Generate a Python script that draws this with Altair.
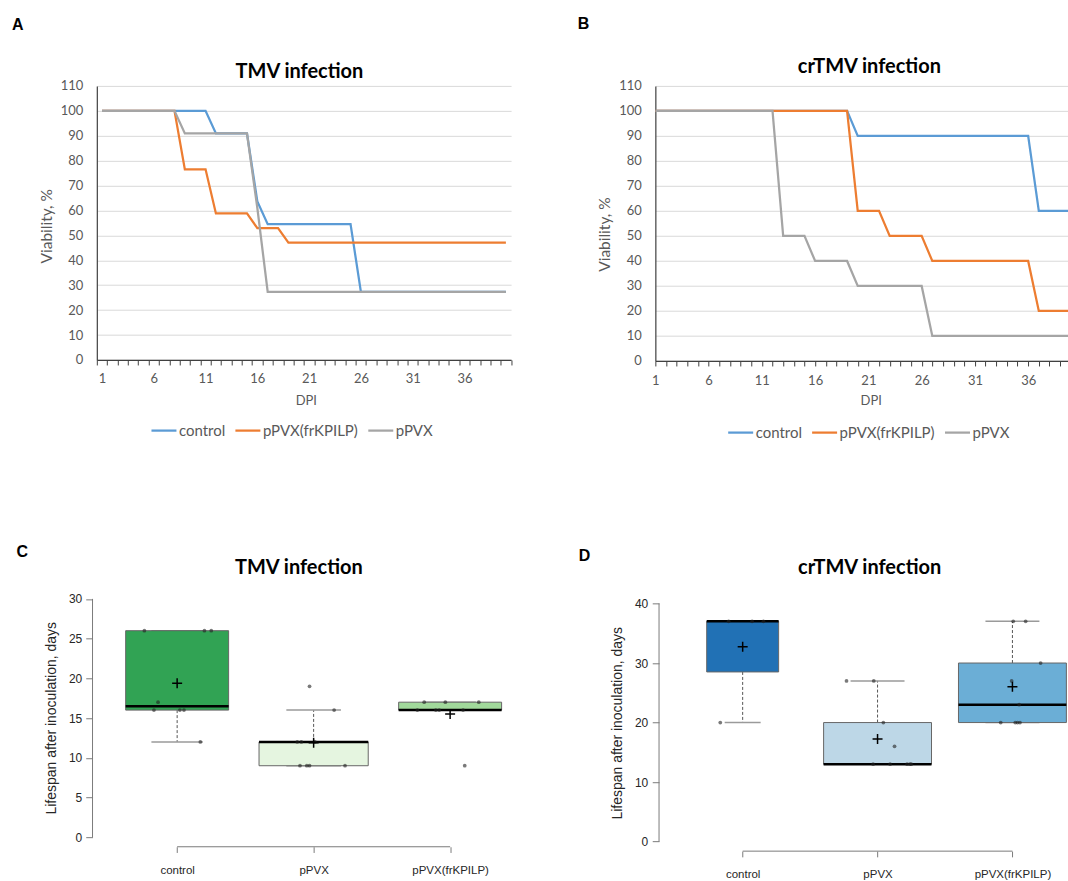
import altair as alt
import pandas as pd
import numpy as np

# ---------------- data: survival curves (A, B) ----------------
km_groups = ["control", "pPVX(frKPILP)", "pPVX"]
km_colors = ["#5b9bd5", "#ed7d31", "#a5a5a5"]
days = list(range(1, 41))

tmv_control = [100, 100, 100, 100, 100, 100, 100, 100, 100, 100,
               100, 90.9, 90.9, 90.9, 90.9, 63.6, 54.5, 54.5, 54.5, 54.5,
               54.5, 54.5, 54.5, 54.5, 54.5, 27.3, 27.3, 27.3, 27.3, 27.3,
               27.3, 27.3, 27.3, 27.3, 27.3, 27.3, 27.3, 27.3, 27.3, 27.3]
tmv_frkpilp = [100, 100, 100, 100, 100, 100, 100, 100, 76.5, 76.5,
               76.5, 58.8, 58.8, 58.8, 58.8, 52.9, 52.9, 52.9, 47.1, 47.1,
               47.1, 47.1, 47.1, 47.1, 47.1, 47.1, 47.1, 47.1, 47.1, 47.1,
               47.1, 47.1, 47.1, 47.1, 47.1, 47.1, 47.1, 47.1, 47.1, 47.1]
tmv_ppvx = [100, 100, 100, 100, 100, 100, 100, 100, 90.9, 90.9,
            90.9, 90.9, 90.9, 90.9, 90.9, 61, 27.3, 27.3, 27.3, 27.3,
            27.3, 27.3, 27.3, 27.3, 27.3, 27.3, 27.3, 27.3, 27.3, 27.3,
            27.3, 27.3, 27.3, 27.3, 27.3, 27.3, 27.3, 27.3, 27.3, 27.3]

crtmv_control = [100, 100, 100, 100, 100, 100, 100, 100, 100, 100,
                 100, 100, 100, 100, 100, 100, 100, 100, 100, 90,
                 90, 90, 90, 90, 90, 90, 90, 90, 90, 90,
                 90, 90, 90, 90, 90, 90, 60, 60, 60, 60]
crtmv_frkpilp = [100, 100, 100, 100, 100, 100, 100, 100, 100, 100,
                 100, 100, 100, 100, 100, 100, 100, 100, 100, 60,
                 60, 60, 50, 50, 50, 50, 40, 40, 40, 40,
                 40, 40, 40, 40, 40, 40, 20, 20, 20, 20]
crtmv_ppvx = [100, 100, 100, 100, 100, 100, 100, 100, 100, 100,
              100, 100, 50, 50, 50, 40, 40, 40, 40, 30,
              30, 30, 30, 30, 30, 30, 10, 10, 10, 10,
              10, 10, 10, 10, 10, 10, 10, 10, 10, 10]

# ---------------- data: lifespan box plots (C, D) ----------------
box_groups = ["control", "pPVX", "pPVX(frKPILP)"]
tmv_box_colors = ["#31a354", "#e5f5e0", "#a1d99b"]
crtmv_box_colors = ["#2171b5", "#bdd7e7", "#6baed6"]

tmv_life_control = [26, 26, 26, 17, 16, 16, 16, 12]
tmv_life_control_jitter = [-0.24, 0.20, 0.25, -0.14, -0.17, 0.02, 0.05, 0.17]
tmv_life_ppvx = [19, 16, 12, 12, 12, 9, 9, 9, 9]
tmv_life_ppvx_jitter = [-0.03, 0.15, -0.12, -0.09, 0.01, -0.10, -0.05, -0.03, 0.23]
tmv_life_frkpilp = [17, 17, 17, 16, 16, 16, 16, 9]
tmv_life_frkpilp_jitter = [-0.19, -0.035, 0.21, -0.24, -0.105, -0.08, 0.095, 0.107]

crtmv_life_control = [37, 37, 37, 20]
crtmv_life_control_jitter = [-0.104, 0.07, 0.154, -0.166]
crtmv_life_ppvx = [27, 27, 20, 16, 13, 13, 13, 13, 13]
crtmv_life_ppvx_jitter = [-0.23, -0.028, 0.043, 0.126, -0.033, 0.093, 0.219, 0.24, 0.25]
crtmv_life_frkpilp = [37, 37, 30, 27, 23, 20, 20, 20, 20]
crtmv_life_frkpilp_jitter = [0.006, 0.098, 0.209, -0.006, 0.05, -0.087, 0.021, 0.038, 0.056]

# ---------------- styles ----------------
XL_FONT = "Lato"
R_FONT = "Liberation Sans"
XL_TXT = "#595959"
XL_AX = "#404040"
R_AX = "#7a7a7a"
R_TXT = "#262626"


def header_layers(letter, lxy, title, txy):
    one = pd.DataFrame({"t": [letter], "title": [title]})
    let = alt.Chart(one).mark_text(
        font=R_FONT, fontWeight="bold", fontSize=16, align="left",
        baseline="top", color="black"
    ).encode(text="t:N", x=alt.value(lxy[0]), y=alt.value(lxy[1]))
    tit = alt.Chart(one).mark_text(
        font=XL_FONT, fontWeight="bold", fontSize=20, align="center",
        baseline="alphabetic", color="black"
    ).encode(text="title:N", x=alt.value(txy[0]), y=alt.value(txy[1]))
    return [let, tit]


def km_panel(vals, xdom, xvals, label_expr, label_off, width, height,
             title, txy, letter, lxy, ytitle_xy, xtitle_xy, legend_xy, xlab_pad):
    rows = []
    for g, v in zip(km_groups, vals):
        for d, val in zip(days, v):
            rows.append({"day": d, "viability": val, "group": g})
    df = pd.DataFrame(rows)
    x_axis = alt.Axis(values=xvals, labelExpr=label_expr, labelOffset=label_off,
                      tickSize=5, tickColor=XL_AX, tickWidth=1,
                      domainColor=XL_AX, domainWidth=1.2, grid=False,
                      labelFont=XL_FONT, labelFontSize=13, labelColor=XL_TXT,
                      labelPadding=xlab_pad, labelBaseline="middle",
                      labelOverlap=False, labelFlush=False,
                      title="DPI", titleFont=XL_FONT, titleFontSize=13,
                      titleFontWeight="normal", titleColor=XL_TXT,
                      titleX=xtitle_xy[0], titleY=xtitle_xy[1],
                      titleBaseline="middle", titleAlign="center")
    y_axis = alt.Axis(values=list(range(0, 111, 10)), ticks=False, tickSize=0,
                      domainColor=XL_AX, domainWidth=1.2,
                      grid=True, gridColor="#d9d9d9", gridWidth=1,
                      labelFont=XL_FONT, labelFontSize=13, labelColor=XL_TXT,
                      labelPadding=14,
                      title="Viability, %", titleFont=XL_FONT, titleFontSize=15.5,
                      titleFontWeight="normal", titleColor=XL_TXT,
                      titleX=ytitle_xy[0], titleY=ytitle_xy[1],
                      titleBaseline="middle", titleAlign="center")
    legend = alt.Legend(orient="none", legendX=legend_xy[0], legendY=legend_xy[1],
                        direction="horizontal", title=None, symbolType="stroke",
                        symbolSize=625, symbolStrokeWidth=2.25,
                        labelFont=XL_FONT, labelFontSize=15, labelColor=XL_TXT,
                        labelOffset=1, columnPadding=5)
    lines = alt.Chart(df).mark_line(strokeWidth=2.25, clip=True).encode(
        x=alt.X("day:Q", scale=alt.Scale(domain=xdom, nice=False, zero=False), axis=x_axis),
        y=alt.Y("viability:Q", scale=alt.Scale(domain=[0, 110], nice=False, zero=False), axis=y_axis),
        color=alt.Color("group:N", scale=alt.Scale(domain=km_groups, range=km_colors), legend=legend),
    )
    return alt.layer(lines, *header_layers(letter, lxy, title, txy)).properties(
        width=width, height=height)


def fivenum(v):
    x = np.sort(np.asarray(v, dtype=float))
    n = len(x)
    n4 = np.floor((n + 3) / 2) / 2
    d = np.array([1, n4, (n + 1) / 2, n + 1 - n4, n]) - 1
    return 0.5 * (x[np.floor(d).astype(int)] + x[np.ceil(d).astype(int)])


def box_tables(values_list, jitter_list):
    nmax = max(len(v) for v in values_list)
    stats, pts = [], []
    for i, (g, v, j) in enumerate(zip(box_groups, values_list, jitter_list)):
        pos = i + 1
        arr = np.asarray(v, dtype=float)
        f = fivenum(arr)
        iqr = f[3] - f[1]
        lw = arr[arr >= f[1] - 1.5 * iqr].min()
        uw = arr[arr <= f[3] + 1.5 * iqr].max()
        half = 0.4 * np.sqrt(len(arr) / nmax)
        stats.append(dict(group=g, pos=pos, left=pos - half, right=pos + half,
                          capl=pos - half / 2, capr=pos + half / 2,
                          lh=f[1], med=f[2], uh=f[3], lw=lw, uw=uw, mean=arr.mean()))
        for val, jj in zip(arr, j):
            pts.append(dict(group=g, x=pos + jj, y=val))
    return pd.DataFrame(stats), pd.DataFrame(pts)


def r_panel(values_list, jitter_list, colors, xdom, ydom, yticks, axis_x, ppu,
            width, height, title, txy, letter, lxy, ytitle_y, xlab_pad, ylab_pad):
    stats, pts = box_tables(values_list, jitter_list)
    x_scale = alt.Scale(domain=xdom, nice=False, zero=False)
    y_scale = alt.Scale(domain=ydom, nice=False, zero=False)
    y_off = (xdom[0] - axis_x) * ppu
    label_expr = " : ".join(
        [f"datum.value == {i + 1} ? '{g}'" for i, g in enumerate(box_groups[:-1])]
    ) + f" : '{box_groups[-1]}'"
    x_axis = alt.Axis(values=[1, 2, 3], labelExpr=label_expr, domain=False,
                      tickSize=5.7, tickColor=R_AX, tickWidth=1, grid=False,
                      labelFont=R_FONT, labelFontSize=11.5, labelColor=R_TXT,
                      labelPadding=xlab_pad, labelBaseline="middle",
                      labelFlush=False, labelOverlap=False, title=None)
    y_axis = alt.Axis(values=yticks, domain=False, tickSize=6.8, tickColor=R_AX,
                      tickWidth=1, offset=y_off, grid=False,
                      labelFont=R_FONT, labelFontSize=12, labelColor=R_TXT,
                      labelPadding=ylab_pad,
                      title="Lifespan after inoculation, days", titleFont=R_FONT,
                      titleFontSize=14, titleFontWeight="normal", titleColor=R_TXT,
                      titleX=-41.3, titleY=ytitle_y, titleBaseline="middle",
                      titleAlign="center")

    def X(f):
        return alt.X(f, type="quantitative", scale=x_scale, axis=x_axis)

    def Y(f):
        return alt.Y(f, type="quantitative", scale=y_scale, axis=y_axis)

    base = alt.Chart(stats)
    one = alt.Chart(pd.DataFrame({"k": [0]}))
    y_line = one.mark_rule(color=R_AX, strokeWidth=1).encode(
        x=alt.XDatum(axis_x, type="quantitative", scale=x_scale, axis=x_axis),
        y=alt.YDatum(yticks[0], type="quantitative", scale=y_scale, axis=y_axis),
        y2=alt.Y2Datum(yticks[-1]))
    x_line = one.mark_rule(color=R_AX, strokeWidth=1).encode(
        x=alt.XDatum(1, type="quantitative", scale=x_scale, axis=x_axis),
        x2=alt.X2Datum(3),
        y=alt.YDatum(ydom[0], type="quantitative", scale=y_scale, axis=y_axis))
    wl = base.mark_rule(color="#555555", strokeDash=[3, 2], strokeWidth=1).encode(
        x=X("pos"), y=Y("lh"), y2="lw")
    wu = base.mark_rule(color="#555555", strokeDash=[3, 2], strokeWidth=1).encode(
        x=X("pos"), y=Y("uh"), y2="uw")
    cl = base.mark_rule(color="#9a9a9a", strokeWidth=1.5).encode(
        x=X("capl"), x2="capr", y=Y("lw"))
    cu = base.mark_rule(color="#9a9a9a", strokeWidth=1.5).encode(
        x=X("capl"), x2="capr", y=Y("uw"))
    boxes = base.mark_rect(stroke="#666666", strokeWidth=1).encode(
        x=X("left"), x2="right", y=Y("lh"), y2="uh",
        fill=alt.Fill("group:N", scale=alt.Scale(domain=box_groups, range=colors), legend=None))
    med = base.mark_rule(color="black", strokeWidth=2.5).encode(
        x=X("left"), x2="right", y=Y("med"))
    dots = alt.Chart(pts).mark_circle(size=14, color="#222222", opacity=0.6).encode(
        x=X("x"), y=Y("y"))
    means = base.mark_point(shape="M-1,0L1,0M0,-1L0,1", size=100, stroke="black",
                            strokeWidth=1.5, filled=False, opacity=1).encode(
        x=X("pos"), y=Y("mean"))
    return alt.layer(y_line, x_line, wl, wu, cl, cu, boxes, med, dots, means,
                     *header_layers(letter, lxy, title, txy)).properties(
        width=width, height=height)


panel_a = km_panel(
    [tmv_control, tmv_frkpilp, tmv_ppvx], xdom=[0.5, 40.5],
    xvals=[i + 0.5 for i in range(41)],
    label_expr="(datum.value - 0.5) % 5 == 0 && datum.value < 40 ? format(datum.value + 0.5, 'd') : ''",
    label_off=5.18, width=414.6, height=274.3, title="TMV infection",
    txy=(202.8, -8.3), letter="A", lxy=(-84.8, -69.4),
    ytitle_xy=(-50, 140), xtitle_xy=(209.2, 40.7), legend_xy=(53.2, 331), xlab_pad=14)

panel_b = km_panel(
    [crtmv_control, crtmv_frkpilp, crtmv_ppvx], xdom=[1, 39.74],
    xvals=list(range(1, 40)),
    label_expr="(datum.value - 1) % 5 == 0 ? format(datum.value, 'd') : ''",
    label_off=0, width=413, height=275.3, title="crTMV infection",
    txy=(214.2, -13.3), letter="B", lxy=(-77.7, -70.4),
    ytitle_xy=(-50.5, 148.3), xtitle_xy=(215.5, 39.7), legend_xy=(71.4, 333), xlab_pad=14.7)

panel_c = r_panel(
    [tmv_life_control, tmv_life_ppvx, tmv_life_frkpilp],
    [tmv_life_control_jitter, tmv_life_ppvx_jitter, tmv_life_frkpilp_jitter],
    tmv_box_colors, xdom=[0.4115, 3.62], ydom=[-1.2, 31.2], yticks=list(range(0, 31, 5)),
    axis_x=0.38, ppu=136.6, width=438.3, height=257.6, title="TMV infection",
    txy=(202.2, -15.5), letter="C", lxy=(-80.4, -45.3), ytitle_y=128.5,
    xlab_pad=18.5, ylab_pad=4)

panel_d = r_panel(
    [crtmv_life_control, crtmv_life_ppvx, crtmv_life_frkpilp],
    [crtmv_life_control_jitter, crtmv_life_ppvx_jitter, crtmv_life_frkpilp_jitter],
    crtmv_box_colors, xdom=[0.3526, 3.412], ydom=[-1.6, 42.37], yticks=list(range(0, 41, 10)),
    axis_x=0.38, ppu=135.0, width=413, height=262, title="crTMV infection",
    txy=(214.5, -15.5), letter="D", lxy=(-76.7, -41), ytitle_y=133.5,
    xlab_pad=17.4, ylab_pad=4.5)

chart = alt.concat(
    panel_a, panel_b, panel_c, panel_d, columns=2,
    spacing={"row": 227.9, "column": 120}, bounds="flush", align="each",
).resolve_scale(
    color="independent", fill="independent"
).resolve_legend(
    color="independent"
).properties(
    padding={"left": 11.9, "top": 14.6, "right": 0, "bottom": 0}
).configure_view(stroke=None)

chart.save("out.html", embed_options={"renderer": "svg", "actions": False})
